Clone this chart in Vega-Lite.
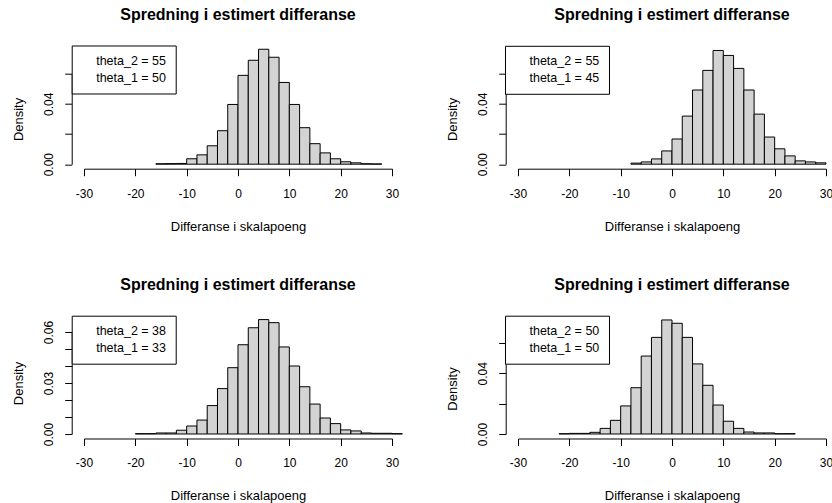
{
  "$schema": "https://vega.github.io/schema/vega-lite/v6.json",
  "padding": {"left": 12, "top": 6.7, "right": 0, "bottom": 0},
  "background": "white",
  "config": {
    "font": "Liberation Sans",
    "view": {"stroke": null},
    "axis": {"grid": false, "domainColor": "#000", "tickColor": "#000", "labelColor": "#000", "titleColor": "#000", "labelFont": "Liberation Sans", "titleFont": "Liberation Sans", "labelFontSize": 12, "titleFontSize": 13, "titleFontWeight": "normal", "tickSize": 7, "labelFlush": false, "labelOverlap": false, "domainWidth": 1, "tickWidth": 1},
    "axisX": {"offset": 4.5, "labelPadding": 12.5, "titlePadding": 21, "labelExpr": "replace(datum.label, '\u2212', '-')"},
    "axisY": {"offset": 12.3, "labelAngle": -90, "labelAlign": "center", "labelBaseline": "bottom", "labelPadding": 9.3, "titlePadding": 17},
    "legend": {"orient": "none", "strokeColor": "#000", "fillColor": "#fff", "padding": 9, "rowPadding": 4, "symbolSize": 100, "symbolOpacity": 0, "symbolStrokeWidth": 0, "labelOffset": 3, "labelFontSize": 12.5, "labelFont": "Liberation Sans", "labelColor": "#000", "cornerRadius": 0, "strokeWidth": 1},
    "title": {"font": "Liberation Sans", "fontSize": 16, "fontWeight": "bold", "color": "#000", "frame": "group", "anchor": "middle", "offset": 22}
  },
  "datasets": {
    "h1": [
      {"lo": -16, "hi": -14, "d": 0.0003}, {"lo": -14, "hi": -12, "d": 0.0004}, {"lo": -12, "hi": -10, "d": 0.0005},
      {"lo": -10, "hi": -8, "d": 0.0036}, {"lo": -8, "hi": -6, "d": 0.0062}, {"lo": -6, "hi": -4, "d": 0.0122},
      {"lo": -4, "hi": -2, "d": 0.0222}, {"lo": -2, "hi": 0, "d": 0.0396}, {"lo": 0, "hi": 2, "d": 0.0589},
      {"lo": 2, "hi": 4, "d": 0.0689}, {"lo": 4, "hi": 6, "d": 0.0762}, {"lo": 6, "hi": 8, "d": 0.0709},
      {"lo": 8, "hi": 10, "d": 0.0542}, {"lo": 10, "hi": 12, "d": 0.0396}, {"lo": 12, "hi": 14, "d": 0.0242},
      {"lo": 14, "hi": 16, "d": 0.0136}, {"lo": 16, "hi": 18, "d": 0.0075}, {"lo": 18, "hi": 20, "d": 0.0036},
      {"lo": 20, "hi": 22, "d": 0.0016}, {"lo": 22, "hi": 24, "d": 0.0009}, {"lo": 24, "hi": 26, "d": 0.0003},
      {"lo": 26, "hi": 28, "d": 0.0002}
    ],
    "h2": [
      {"lo": -8, "hi": -6, "d": 0.0007}, {"lo": -6, "hi": -4, "d": 0.0015}, {"lo": -4, "hi": -2, "d": 0.0035},
      {"lo": -2, "hi": 0, "d": 0.0088}, {"lo": 0, "hi": 2, "d": 0.0167}, {"lo": 2, "hi": 4, "d": 0.0319},
      {"lo": 4, "hi": 6, "d": 0.0492}, {"lo": 6, "hi": 8, "d": 0.0622}, {"lo": 8, "hi": 10, "d": 0.0754},
      {"lo": 10, "hi": 12, "d": 0.0721}, {"lo": 12, "hi": 14, "d": 0.0635}, {"lo": 14, "hi": 16, "d": 0.0492},
      {"lo": 16, "hi": 18, "d": 0.0332}, {"lo": 18, "hi": 20, "d": 0.018}, {"lo": 20, "hi": 22, "d": 0.0102},
      {"lo": 22, "hi": 24, "d": 0.0055}, {"lo": 24, "hi": 26, "d": 0.0022}, {"lo": 26, "hi": 28, "d": 0.0015},
      {"lo": 28, "hi": 30, "d": 0.0009}
    ],
    "h3": [
      {"lo": -20, "hi": -18, "d": 0.0002}, {"lo": -18, "hi": -16, "d": 0.0002}, {"lo": -16, "hi": -14, "d": 0.0006},
      {"lo": -14, "hi": -12, "d": 0.0006}, {"lo": -12, "hi": -10, "d": 0.0022}, {"lo": -10, "hi": -8, "d": 0.0047},
      {"lo": -8, "hi": -6, "d": 0.0082}, {"lo": -6, "hi": -4, "d": 0.0167}, {"lo": -4, "hi": -2, "d": 0.0267},
      {"lo": -2, "hi": 0, "d": 0.039}, {"lo": 0, "hi": 2, "d": 0.0525}, {"lo": 2, "hi": 4, "d": 0.0625},
      {"lo": 4, "hi": 6, "d": 0.0673}, {"lo": 6, "hi": 8, "d": 0.0655}, {"lo": 8, "hi": 10, "d": 0.0512},
      {"lo": 10, "hi": 12, "d": 0.04}, {"lo": 12, "hi": 14, "d": 0.0278}, {"lo": 14, "hi": 16, "d": 0.0176},
      {"lo": 16, "hi": 18, "d": 0.0094}, {"lo": 18, "hi": 20, "d": 0.0061}, {"lo": 20, "hi": 22, "d": 0.0024},
      {"lo": 22, "hi": 24, "d": 0.0018}, {"lo": 24, "hi": 26, "d": 0.0006}, {"lo": 26, "hi": 28, "d": 0.0004},
      {"lo": 28, "hi": 30, "d": 0.0004}, {"lo": 30, "hi": 32, "d": 0.0002}
    ],
    "h4": [
      {"lo": -22, "hi": -20, "d": 0.0002}, {"lo": -20, "hi": -18, "d": 0.0004}, {"lo": -18, "hi": -16, "d": 0.0004},
      {"lo": -16, "hi": -14, "d": 0.0011}, {"lo": -14, "hi": -12, "d": 0.0037}, {"lo": -12, "hi": -10, "d": 0.009},
      {"lo": -10, "hi": -8, "d": 0.0185}, {"lo": -8, "hi": -6, "d": 0.0305}, {"lo": -6, "hi": -4, "d": 0.0514},
      {"lo": -4, "hi": -2, "d": 0.0637}, {"lo": -2, "hi": 0, "d": 0.0752}, {"lo": 0, "hi": 2, "d": 0.073},
      {"lo": 2, "hi": 4, "d": 0.0637}, {"lo": 4, "hi": 6, "d": 0.0462}, {"lo": 6, "hi": 8, "d": 0.0321},
      {"lo": 8, "hi": 10, "d": 0.0191}, {"lo": 10, "hi": 12, "d": 0.0084}, {"lo": 12, "hi": 14, "d": 0.0037},
      {"lo": 14, "hi": 16, "d": 0.0013}, {"lo": 16, "hi": 18, "d": 0.0007}, {"lo": 18, "hi": 20, "d": 0.0007},
      {"lo": 20, "hi": 22, "d": 0.0002}, {"lo": 22, "hi": 24, "d": 0.0002}
    ],
    "l1": [{"label": "theta_2 = 55"}, {"label": "theta_1 = 50"}],
    "l2": [{"label": "theta_2 = 55"}, {"label": "theta_1 = 45"}],
    "l3": [{"label": "theta_2 = 38"}, {"label": "theta_1 = 33"}],
    "l4": [{"label": "theta_2 = 50"}, {"label": "theta_1 = 50"}]
  },
  "resolve": {"scale": {"color": "independent"}, "legend": {"color": "independent"}},
  "spacing": 43,
  "hconcat": [
    {
      "vconcat": [
        {
          "width": 308, "height": 90.5,
          "title": {"text": "Spredning i estimert differanse"},
          "layer": [
            {"data": {"name": "h1"}, "mark": {"type": "rect", "fill": "#d3d3d3", "stroke": "#000", "strokeWidth": 1},
             "encoding": {
               "x": {"field": "lo", "type": "quantitative", "scale": {"domain": [-30, 30], "nice": false, "zero": false}, "axis": {"values": [-30, -20, -10, 0, 10, 20, 30], "title": "Differanse i skalapoeng"}},
               "x2": {"field": "hi"},
               "y": {"field": "d", "type": "quantitative", "scale": {"domain": [0, 0.06], "nice": false}, "axis": {"values": [0, 0.02, 0.04, 0.06], "format": ".2f", "labelExpr": "datum.value < 0.001 || abs(datum.value - 0.04) < 0.001 ? datum.label : ''", "title": "Density"}},
               "y2": {"datum": 0}
             }},
            {"data": {"name": "l1"}, "mark": {"type": "point", "opacity": 0},
             "encoding": {"color": {"field": "label", "type": "nominal", "sort": "descending", "scale": {"range": ["#000", "#000"]}, "legend": {"title": null, "legendX": -12.3, "legendY": -28.2}}}}
          ]
        },
        {
          "width": 308, "height": 102,
          "title": {"text": "Spredning i estimert differanse"},
          "layer": [
            {"data": {"name": "h3"}, "mark": {"type": "rect", "fill": "#d3d3d3", "stroke": "#000", "strokeWidth": 1},
             "encoding": {
               "x": {"field": "lo", "type": "quantitative", "scale": {"domain": [-30, 30], "nice": false, "zero": false}, "axis": {"values": [-30, -20, -10, 0, 10, 20, 30], "title": "Differanse i skalapoeng"}},
               "x2": {"field": "hi"},
               "y": {"field": "d", "type": "quantitative", "scale": {"domain": [0, 0.06], "nice": false}, "axis": {"values": [0, 0.01, 0.02, 0.03, 0.04, 0.05, 0.06], "format": ".2f", "labelExpr": "datum.value < 0.001 || abs(datum.value - 0.03) < 0.001 || abs(datum.value - 0.06) < 0.001 ? datum.label : ''", "title": "Density"}},
               "y2": {"datum": 0}
             }},
            {"data": {"name": "l3"}, "mark": {"type": "point", "opacity": 0},
             "encoding": {"color": {"field": "label", "type": "nominal", "sort": "descending", "scale": {"range": ["#000", "#000"]}, "legend": {"title": null, "legendX": -12.3, "legendY": -16.3}}}}
          ]
        }
      ],
      "spacing": 167.3,
      "bounds": "flush",
      "resolve": {"scale": {"color": "independent"}, "legend": {"color": "independent"}}
    },
    {
      "vconcat": [
        {
          "width": 308, "height": 90.5,
          "title": {"text": "Spredning i estimert differanse"},
          "layer": [
            {"data": {"name": "h2"}, "mark": {"type": "rect", "fill": "#d3d3d3", "stroke": "#000", "strokeWidth": 1},
             "encoding": {
               "x": {"field": "lo", "type": "quantitative", "scale": {"domain": [-30, 30], "nice": false, "zero": false}, "axis": {"values": [-30, -20, -10, 0, 10, 20, 30], "title": "Differanse i skalapoeng"}},
               "x2": {"field": "hi"},
               "y": {"field": "d", "type": "quantitative", "scale": {"domain": [0, 0.06], "nice": false}, "axis": {"values": [0, 0.02, 0.04, 0.06], "format": ".2f", "labelExpr": "datum.value < 0.001 || abs(datum.value - 0.04) < 0.001 ? datum.label : ''", "title": "Density"}},
               "y2": {"datum": 0}
             }},
            {"data": {"name": "l2"}, "mark": {"type": "point", "opacity": 0},
             "encoding": {"color": {"field": "label", "type": "nominal", "sort": "descending", "scale": {"range": ["#000", "#000"]}, "legend": {"title": null, "legendX": -13, "legendY": -27.9}}}}
          ]
        },
        {
          "width": 308, "height": 91,
          "title": {"text": "Spredning i estimert differanse"},
          "layer": [
            {"data": {"name": "h4"}, "mark": {"type": "rect", "fill": "#d3d3d3", "stroke": "#000", "strokeWidth": 1},
             "encoding": {
               "x": {"field": "lo", "type": "quantitative", "scale": {"domain": [-30, 30], "nice": false, "zero": false}, "axis": {"values": [-30, -20, -10, 0, 10, 20, 30], "title": "Differanse i skalapoeng"}},
               "x2": {"field": "hi"},
               "y": {"field": "d", "type": "quantitative", "scale": {"domain": [0, 0.06], "nice": false}, "axis": {"values": [0, 0.02, 0.04, 0.06], "format": ".2f", "labelExpr": "datum.value < 0.001 || abs(datum.value - 0.04) < 0.001 ? datum.label : ''", "title": "Density"}},
               "y2": {"datum": 0}
             }},
            {"data": {"name": "l4"}, "mark": {"type": "point", "opacity": 0},
             "encoding": {"color": {"field": "label", "type": "nominal", "sort": "descending", "scale": {"range": ["#000", "#000"]}, "legend": {"title": null, "legendX": -13, "legendY": -27.3}}}}
          ]
        }
      ],
      "spacing": 178.3,
      "bounds": "flush",
      "resolve": {"scale": {"color": "independent"}, "legend": {"color": "independent"}}
    }
  ]
}
